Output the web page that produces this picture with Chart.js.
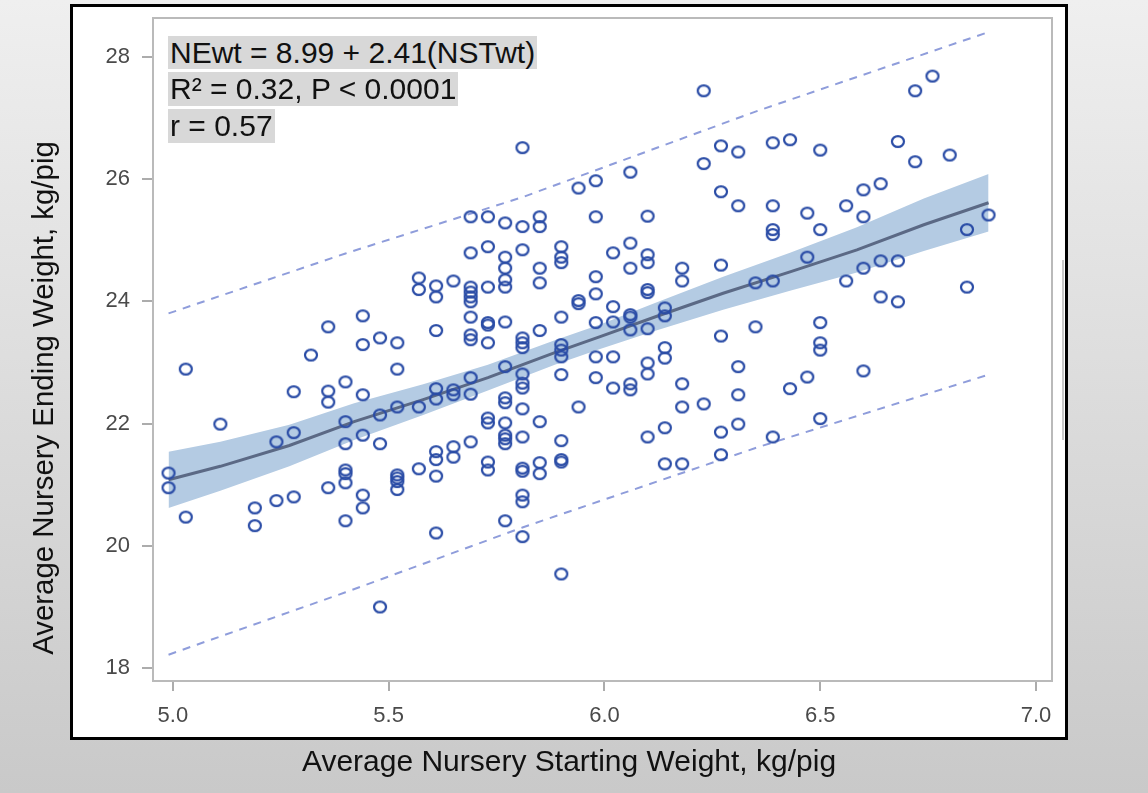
<!DOCTYPE html>
<html>
<head>
<meta charset="utf-8">
<title>Nursery weight regression</title>
<script src="https://cdn.jsdelivr.net/npm/chart.js@4.4.1/dist/chart.umd.min.js"></script>
<style>
  html, body { margin: 0; padding: 0; }
  body {
    width: 1148px; height: 793px; overflow: hidden; position: relative;
    background: linear-gradient(to bottom, #efefef 0%, #c9c9c9 100%);
    font-family: "Liberation Sans", Arial, sans-serif;
  }
  #frame { position: absolute; left: 70px; top: 4px; width: 998px; height: 736px; box-sizing: border-box; border: 3px solid #000; background: #fff; }
  #edge { position: absolute; left: 1062px; top: 260px; width: 2px; height: 180px; background: #c8c8c8; }
  #chart { position: absolute; left: 0; top: 0; }
  .stat { position: absolute; left: 168px; height: 33.5px; line-height: 33.5px; font-size: 30px; color: #111; background: #d8d8d8; padding: 0 2px; white-space: nowrap; }
  #xtitle { position: absolute; left: 269px; width: 600px; top: 745.6px; line-height: 30px; font-size: 30px; text-align: center; color: #111; white-space: nowrap; }
  #ytitle { position: absolute; left: -257.4px; width: 600px; top: 382.5px; line-height: 30px; font-size: 29.4px; text-align: center; color: #111; white-space: nowrap; transform: rotate(-90deg); }
</style>
</head>
<body>
<div id="frame"></div>
<div id="edge"></div>
<canvas id="chart" width="1148" height="793"></canvas>
<div class="stat" style="top:35.6px">NEwt = 8.99 + 2.41(NSTwt)</div>
<div class="stat" style="top:72.3px">R² = 0.32, P &lt; 0.0001</div>
<div class="stat" style="top:109px">r = 0.57</div>
<div id="xtitle">Average Nursery Starting Weight, kg/pig</div>
<div id="ytitle">Average Nursery Ending Weight, kg/pig</div>

<script>
// EIXOS
const xTicks = [5.0, 5.5, 6.0, 6.5, 7.0];
const yTicks = [18, 20, 22, 24, 26, 28];

// PESO INICIAL (colunas) E PESOS FINAIS OBSERVADOS EM CADA COLUNA
const startWt = [4.99, 5.03, 5.11, 5.19, 5.24, 5.28, 5.32, 5.36, 5.40, 5.44,
                 5.48, 5.52, 5.57, 5.61, 5.65, 5.69, 5.73, 5.77, 5.81, 5.85,
                 5.90, 5.94, 5.98, 6.02, 6.06, 6.10, 6.14, 6.18, 6.23, 6.27,
                 6.31, 6.35, 6.39, 6.43, 6.47, 6.50, 6.56, 6.60, 6.64, 6.68,
                 6.72, 6.76, 6.80, 6.84, 6.89];
const endWt = [
    [21.19, 20.95],
    [22.89, 20.47],
    [21.99],
    [20.62, 20.33],
    [21.70, 20.74],
    [22.52, 21.85, 20.80],
    [23.12],
    [23.58, 22.53, 22.35, 20.95],
    [22.68, 22.03, 21.67, 21.24, 21.18, 21.03, 20.41],
    [23.76, 23.29, 22.47, 21.81, 20.83, 20.62],
    [23.40, 22.14, 21.67, 19.00],
    [23.32, 22.89, 22.27, 21.16, 21.11, 21.05, 20.92],
    [24.38, 24.19, 22.27, 21.26],
    [24.25, 24.07, 23.52, 22.57, 22.40, 21.54, 21.41, 21.14, 20.21],
    [24.33, 22.55, 22.47, 21.62, 21.45],
    [25.38, 24.79, 24.23, 24.15, 24.07, 23.99, 23.74, 23.45, 23.37, 22.75, 22.48, 21.70],
    [25.38, 24.89, 24.23, 23.65, 23.61, 23.32, 22.09, 22.01, 21.37, 21.24],
    [25.28, 24.72, 24.54, 24.35, 24.23, 23.66, 22.93, 22.42, 22.34, 22.01, 21.81, 21.75, 21.67, 20.41],
    [26.51, 25.22, 24.84, 23.40, 23.32, 23.24, 22.81, 22.66, 22.58, 22.24, 21.78, 21.27, 21.22, 20.83, 20.72, 20.15],
    [25.38, 25.22, 24.54, 24.30, 23.52, 22.03, 21.36, 21.18],
    [24.89, 24.72, 24.63, 23.74, 23.29, 23.20, 23.09, 22.80, 21.72, 21.41, 21.37, 19.54],
    [25.85, 24.01, 23.96, 22.27],
    [25.97, 25.38, 24.40, 24.12, 23.65, 23.09, 22.75],
    [24.79, 23.91, 23.66, 23.09, 22.58],
    [26.11, 24.95, 24.54, 23.78, 23.74, 23.53, 22.65, 22.55],
    [25.39, 24.76, 24.63, 24.19, 24.14, 23.55, 22.99, 22.81, 21.78],
    [23.89, 23.76, 23.24, 23.07, 21.93, 21.34],
    [24.54, 24.33, 22.65, 22.27, 21.34],
    [27.44, 26.25, 22.32],
    [26.54, 25.79, 24.59, 23.43, 21.86, 21.49],
    [26.44, 25.56, 22.93, 22.47, 21.99],
    [24.30, 23.58],
    [26.59, 25.56, 25.17, 25.09, 24.33, 21.78],
    [26.64, 22.57],
    [25.44, 24.72, 22.76],
    [26.47, 25.17, 23.65, 23.32, 23.20, 22.08],
    [25.56, 24.33],
    [25.82, 25.38, 24.54, 22.86],
    [25.92, 24.66, 24.07],
    [26.61, 24.66, 23.99],
    [27.44, 26.28],
    [27.68],
    [26.39],
    [25.17, 24.23],
    [25.41]
];

// RETA AJUSTADA E FAIXA DE CONFIANCA
const fitX   = [4.99, 5.11, 5.27, 5.42, 5.58, 5.73, 5.885, 5.99, 6.12, 6.275, 6.43, 6.585, 6.74, 6.89];
const fitY   = [21.08, 21.30, 21.64, 22.03, 22.39, 22.75, 23.16, 23.42, 23.75, 24.13, 24.48, 24.84, 25.25, 25.61];
const ciLow  = [20.62, 20.90, 21.30, 21.73, 22.14, 22.54, 22.96, 23.22, 23.52, 23.86, 24.17, 24.47, 24.82, 25.14];
const ciHigh = [21.54, 21.70, 21.98, 22.33, 22.64, 22.96, 23.36, 23.62, 23.98, 24.40, 24.79, 25.21, 25.68, 26.08];

// LIMITES DE PREDICAO (tracejados)
const piX    = [4.99, 5.40, 5.81, 6.35, 6.89];
const piLow  = [18.22, 19.24, 20.30, 21.60, 22.80];
const piHigh = [23.80, 24.78, 25.70, 27.10, 28.40];

const toPts = (xs, ys) => xs.map((x, i) => ({ x: x, y: ys[i] }));
const observed = startWt.flatMap((x, i) => endWt[i].map(y => ({ x: x, y: y })));

// MARCADOR: circulo aberto levemente achatado
const ring = document.createElement('canvas');
ring.width = 16; ring.height = 15;
const rc = ring.getContext('2d');
rc.strokeStyle = '#2a4ca6';
rc.lineWidth = 2.2;
rc.beginPath();
rc.ellipse(8, 7.5, 6, 5.4, 0, 0, Math.PI * 2);
rc.stroke();

// MOLDURA DA AREA DO GRAFICO
const plotBox = {
    id: 'plotBox',
    beforeDatasetsDraw(chart) {
        const { ctx, chartArea: a } = chart;
        ctx.save();
        ctx.strokeStyle = '#bababa';
        ctx.lineWidth = 2;
        ctx.strokeRect(a.left, a.top, a.right - a.left, a.bottom - a.top);
        ctx.restore();
    }
};

Chart.defaults.font.family = '"Liberation Sans", Arial, sans-serif';

const axisGrid = (len) => ({ drawOnChartArea: false, drawTicks: true, tickLength: len, color: '#acacac', lineWidth: 2 });

new Chart(document.getElementById('chart').getContext('2d'), {
    type: 'scatter',
    data: {
        datasets: [
            { type: 'scatter', label: 'Observed', data: observed, pointStyle: ring, pointRadius: 6, order: 0 },
            { type: 'line', label: 'Fit', data: toPts(fitX, fitY), borderColor: '#5b6985', borderWidth: 3, pointRadius: 0, order: 1 },
            { type: 'line', label: '95% Prediction Limits', data: toPts(piX, piHigh), borderColor: '#8f9ddb', borderWidth: 2, borderDash: [8, 7], pointRadius: 0, order: 2 },
            { type: 'line', label: '95% Prediction Limits (low)', data: toPts(piX, piLow), borderColor: '#8f9ddb', borderWidth: 2, borderDash: [8, 7], pointRadius: 0, order: 2 },
            { type: 'line', label: '95% Confidence Limits', data: toPts(fitX, ciHigh), borderColor: 'rgba(0,0,0,0)', borderWidth: 1, pointRadius: 0, fill: '+1', backgroundColor: '#b4cbe3', order: 3 },
            { type: 'line', label: '95% Confidence Limits (low)', data: toPts(fitX, ciLow), borderColor: 'rgba(0,0,0,0)', borderWidth: 1, pointRadius: 0, order: 3 }
        ]
    },
    options: {
        responsive: false,
        animation: false,
        layout: { padding: { top: 18, right: 96, bottom: 0, left: 0 } },
        plugins: { legend: { display: false }, tooltip: { enabled: false } },
        scales: {
            x: {
                type: 'linear', min: 4.954, max: 7.037,
                afterBuildTicks: s => { s.ticks = xTicks.map(v => ({ value: v })); },
                afterFit: s => { s.height = 112; s.paddingLeft = 0; s.paddingRight = 0; },
                grid: axisGrid(10),
                border: { display: false },
                ticks: { font: { size: 22 }, color: '#4a4a4a', padding: 12, maxRotation: 0, autoSkip: false, callback: v => v.toFixed(1) }
            },
            y: {
                type: 'linear', min: 17.79, max: 28.63,
                afterBuildTicks: s => { s.ticks = yTicks.map(v => ({ value: v })); },
                afterFit: s => { s.width = 153; s.paddingTop = 0; s.paddingBottom = 0; },
                grid: axisGrid(11),
                border: { display: false },
                ticks: { font: { size: 22 }, color: '#4a4a4a', padding: 12, autoSkip: false, callback: v => String(v) }
            }
        }
    },
    plugins: [plotBox]
});
</script>
</body>
</html>
